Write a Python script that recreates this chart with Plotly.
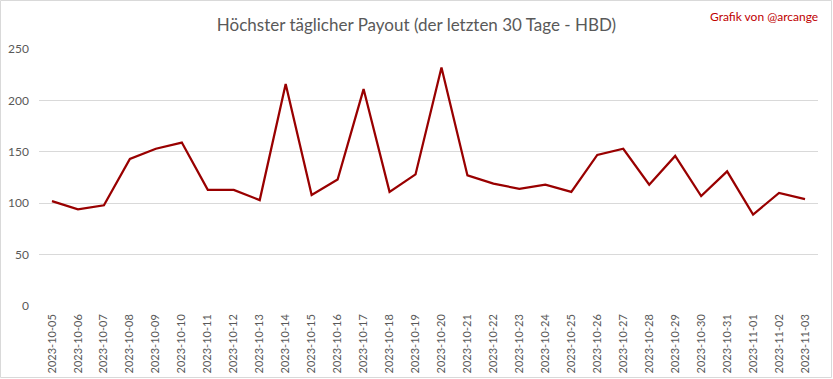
import plotly.graph_objects as go

dates = ["2023-10-05", "2023-10-06", "2023-10-07", "2023-10-08", "2023-10-09", "2023-10-10",
         "2023-10-11", "2023-10-12", "2023-10-13", "2023-10-14", "2023-10-15", "2023-10-16",
         "2023-10-17", "2023-10-18", "2023-10-19", "2023-10-20", "2023-10-21", "2023-10-22",
         "2023-10-23", "2023-10-24", "2023-10-25", "2023-10-26", "2023-10-27", "2023-10-28",
         "2023-10-29", "2023-10-30", "2023-10-31", "2023-11-01", "2023-11-02", "2023-11-03"]
payout = [102, 94, 98, 143, 153, 159, 113, 113, 103, 216, 108, 123, 211, 111, 128, 232,
          127, 119, 114, 118, 111, 147, 153, 118, 146, 107, 131, 89, 110, 104]
y_ticks = [0, 50, 100, 150, 200, 250]

title_text = "Höchster täglicher Payout (der letzten 30 Tage - HBD)"
credit_text = "Grafik von @arcange"

W, H = 833, 379
ML, MR, MT, MB = 39, 15, 49, 73
pw, ph = W - ML - MR, H - MT - MB

fig = go.Figure()
fig.add_trace(go.Scatter(
    x=dates, y=payout, mode="lines",
    line=dict(color="#990000", width=2.25),
    showlegend=False, hoverinfo="x+y",
))

fig.update_layout(
    width=W, height=H,
    margin=dict(l=ML, r=MR, t=MT, b=MB, pad=0, autoexpand=False),
    paper_bgcolor="white", plot_bgcolor="white",
    font=dict(family="Lato, Arial", color="#595959", size=12),
    title=dict(text=title_text, x=0.5, xanchor="center", y=1 - 25 / H, yanchor="middle",
               font=dict(family="Lato, Arial", size=17, color="#595959")),
    xaxis=dict(
        type="category", range=[-0.5, len(dates) - 0.5], automargin=False,
        tickangle=-90, tickfont=dict(size=11, color="#595959"),
        showgrid=False, zeroline=False, showline=False, ticks="",
        ticklabelstandoff=5,
    ),
    yaxis=dict(
        range=[0, 250], tickvals=y_ticks, ticktext=[str(v) for v in y_ticks], automargin=False,
        showgrid=True, gridcolor="#d9d9d9", gridwidth=1,
        zeroline=False, showline=False, ticks="",
        tickfont=dict(size=12, color="#595959"),
        ticklabelstandoff=9,
    ),
    annotations=[dict(
        text=credit_text, xref="paper", yref="paper",
        x=(W - 13 - ML) / pw, y=(H - 16 - MB) / ph, xanchor="right", yanchor="middle",
        showarrow=False, font=dict(family="Lato, Arial", size=12, color="#C00000"),
    )],
    shapes=[dict(
        type="rect", xref="paper", yref="paper",
        x0=(0.5 - ML) / pw, x1=(W - 1.5 - ML) / pw,
        y0=-(MB - 1.5) / ph, y1=(H - MB - 0.5) / ph,
        line=dict(color="#d9d9d9", width=1), layer="below",
    )],
)

fig.write_html("out.html", config={"displayModeBar": False},
               post_script="document.body.style.margin='0';")
